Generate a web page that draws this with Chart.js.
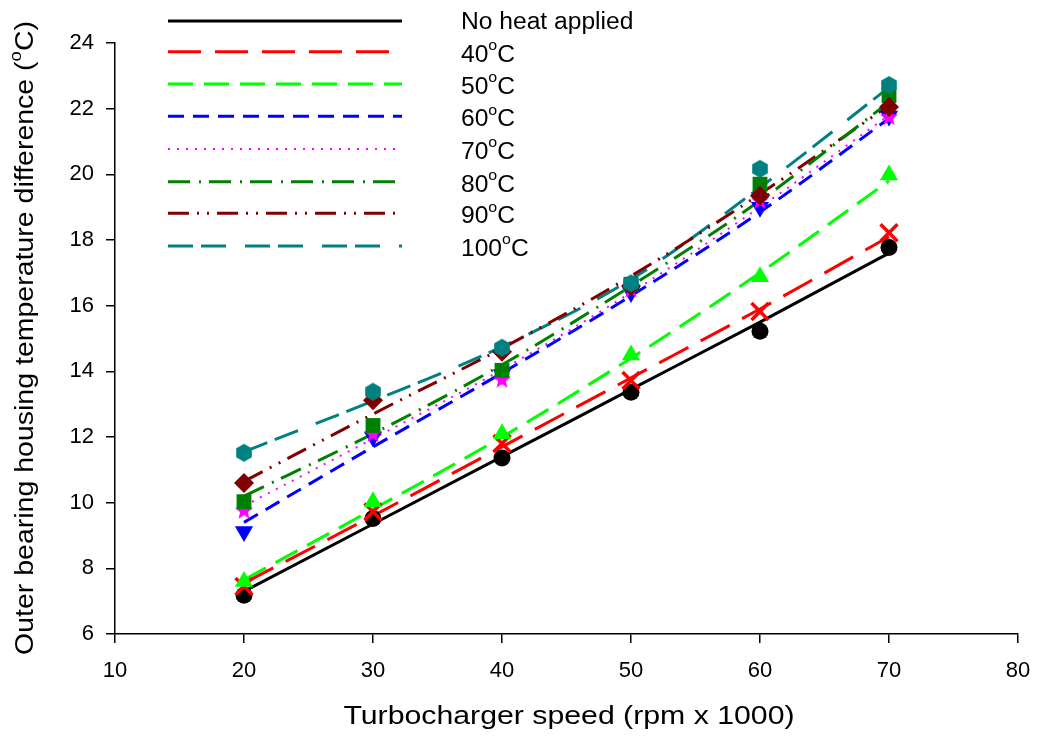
<!DOCTYPE html>
<html>
<head>
<meta charset="utf-8">
<script src="https://cdn.jsdelivr.net/npm/chart.js@4/dist/chart.umd.min.js"></script>
<style>
  html, body { margin: 0; padding: 0; background: #fff; }
  #wrap { width: 1038px; height: 736px; }
</style>
</head>
<body>
<div id="wrap"><canvas id="c" width="1038" height="736"></canvas></div>
<script>
// ---------- data ----------
const speeds = [20, 30, 40, 50, 60, 70];
const seriesLabels = ['No heat applied', '40', '50', '60', '70', '80', '90', '100'];

// measured points
const noHeat  = [7.18, 9.52, 11.36, 13.36, 15.22, 17.77];
const heat40  = [7.45, 9.72, 11.80, 13.72, 15.82, 18.22];
const heat50  = [7.60, 10.03, 12.10, 14.50, 16.88, 19.98];
const heat60  = [9.12, 12.00, 13.90, 16.40, 19.00, 21.78];
const heat70  = [9.76, 12.10, 13.75, 16.50, 19.20, 21.75];
const heat80  = [10.03, 12.35, 14.03, 16.65, 19.70, 22.40];
const heat90  = [10.60, 13.12, 14.60, 16.60, 19.35, 22.05];
const heat100 = [11.52, 13.38, 14.72, 16.68, 20.17, 22.72];

// fitted curves
const fitNoHeat = [7.30, 9.35, 11.40, 13.45, 15.50, 17.60];
const fit40     = [7.55, 9.60, 11.70, 13.80, 15.90, 18.10];
const fit50     = [7.65, 9.80, 12.00, 14.40, 17.00, 19.80];
const fit60     = [9.40, 11.70, 13.95, 16.30, 18.85, 21.70];
const fit70     = [9.90, 11.95, 14.05, 16.40, 19.00, 21.80];
const fit80     = [10.20, 12.10, 14.20, 16.60, 19.20, 22.20];
const fit90     = [10.65, 12.70, 14.70, 16.90, 19.40, 22.10];
const fit100    = [11.55, 13.10, 14.75, 16.80, 19.60, 22.65];

const xTicks = [10, 20, 30, 40, 50, 60, 70, 80];
const yTicks = [6, 8, 10, 12, 14, 16, 18, 20, 22, 24];

// ---------- styles ----------
const FONT = 'Arial, "Liberation Sans", sans-serif';
Chart.defaults.font.family = FONT;
Chart.defaults.font.size = 22;
Chart.defaults.color = '#000';

const colors = ['#000000', '#ff0000', '#00ff00', '#0000ff', '#ff00ff', '#008000', '#800000', '#008080'];
const dashes = [[], [33, 14], [25, 11], [16, 9], [2, 7], [22, 9, 2, 8], [21, 8, 2, 8, 2, 8], [25, 8, 25, 19]];
const lineWidths = [3, 3, 3, 3, 2, 3, 3, 3];

function makeShape(kind, color) {
  const c = document.createElement('canvas');
  c.width = 22; c.height = 22;
  const g = c.getContext('2d');
  g.fillStyle = color;
  g.beginPath();
  if (kind === 'hex') {
    for (let i = 0; i < 6; i++) {
      const a = -Math.PI / 2 + i * Math.PI / 3;
      const px = 11 + 9 * Math.cos(a), py = 11 + 9 * Math.sin(a);
      i ? g.lineTo(px, py) : g.moveTo(px, py);
    }
  } else {
    for (let i = 0; i < 10; i++) {
      const a = -Math.PI / 2 + i * Math.PI / 5;
      const r = i % 2 ? 4 : 9.5;
      const px = 11 + r * Math.cos(a), py = 11.5 + r * Math.sin(a);
      i ? g.lineTo(px, py) : g.moveTo(px, py);
    }
  }
  g.closePath();
  g.fill();
  return c;
}

const pointSets = [noHeat, heat40, heat50, heat60, heat70, heat80, heat90, heat100];
const fitSets = [fitNoHeat, fit40, fit50, fit60, fit70, fit80, fit90, fit100];
const pStyles = ['circle', 'crossRot', 'triangle', 'triangle', makeShape('star', '#ff00ff'), 'rect', 'rectRot', makeShape('hex', '#008080')];
const pRadius = [8.5, 12, 10.5, 10.5, 9, 10.5, 10, 9];
const pRot = [0, 0, 0, 180, 0, 0, 0, 0];

const toXY = arr => speeds.map((x, i) => ({ x: x, y: arr[i] }));

const datasets = [];
fitSets.forEach((arr, i) => {
  datasets.push({
    label: 'fit ' + seriesLabels[i],
    data: toXY(arr),
    showLine: true,
    borderColor: colors[i],
    borderWidth: lineWidths[i],
    borderDash: dashes[i],
    cubicInterpolationMode: 'monotone',
    pointRadius: 0,
    pointHoverRadius: 0,
    fill: false,
    order: 30 + i
  });
});
pointSets.forEach((arr, i) => {
  datasets.push({
    label: seriesLabels[i],
    data: toXY(arr),
    showLine: false,
    pointStyle: pStyles[i],
    pointRadius: pRadius[i],
    pointRotation: pRot[i],
    backgroundColor: colors[i],
    borderColor: colors[i],
    pointBorderWidth: i === 1 ? 3.5 : 0,
    order: 10 - i
  });
});

// ---------- rich text helper (superscript o) ----------
function drawRich(ctx, parts, size, sx, align) {
  const font = s => s + 'px ' + FONT;
  let w = 0;
  parts.forEach(p => { ctx.font = font(p.sup ? size * 0.65 : size); p.w = ctx.measureText(p.t).width; w += p.w; });
  ctx.save();
  ctx.scale(sx, 1);
  let x = align === 'center' ? -w / 2 : 0;
  ctx.textBaseline = 'alphabetic';
  ctx.textAlign = 'left';
  parts.forEach(p => {
    ctx.font = font(p.sup ? size * 0.65 : size);
    ctx.fillText(p.t, x, p.sup ? -size * 0.5 : 0);
    x += p.w;
  });
  ctx.restore();
}

const decor = {
  id: 'decor',
  afterDraw(chart) {
    const ctx = chart.ctx;
    ctx.save();
    ctx.fillStyle = '#000';
    // legend
    const ly = [21, 51.7, 84, 116.3, 149, 181.7, 213.3, 246];
    for (let i = 0; i < 8; i++) {
      ctx.save();
      ctx.strokeStyle = colors[i];
      ctx.lineWidth = lineWidths[i];
      ctx.setLineDash(dashes[i]);
      ctx.beginPath();
      ctx.moveTo(168, ly[i]);
      ctx.lineTo(402, ly[i]);
      ctx.stroke();
      ctx.restore();
      ctx.save();
      ctx.translate(461, ly[i] + (i === 0 ? 8.3 : 9.8));
      const parts = i === 0 ? [{ t: seriesLabels[0] }] : [{ t: seriesLabels[i] }, { t: 'o', sup: true }, { t: 'C' }];
      drawRich(ctx, parts, 23, 1.07, 'left');
      ctx.restore();
    }
    // x title
    ctx.save();
    ctx.translate(569, 724);
    drawRich(ctx, [{ t: 'Turbocharger speed (rpm x 1000)' }], 25, 1.21, 'center');
    ctx.restore();
    // y title
    ctx.save();
    ctx.translate(33, 338);
    ctx.rotate(-Math.PI / 2);
    drawRich(ctx, [{ t: 'Outer bearing housing temperature difference (' }, { t: 'o', sup: true }, { t: 'C)' }], 25, 1.14, 'center');
    ctx.restore();
    ctx.restore();
  }
};

new Chart(document.getElementById('c'), {
  type: 'scatter',
  data: { datasets: datasets },
  plugins: [decor],
  options: {
    responsive: false,
    animation: false,
    devicePixelRatio: 1,
    layout: { padding: { top: 43, right: 20, left: 0, bottom: 0 } },
    plugins: { legend: { display: false }, tooltip: { enabled: false }, title: { display: false } },
    scales: {
      x: {
        type: 'linear', min: 10, max: 80,
        afterBuildTicks: s => { s.ticks = xTicks.map(v => ({ value: v })); },
        afterFit: s => { s.height = 102; s.paddingRight = 0; s.paddingLeft = 0; },
        grid: { display: true, drawOnChartArea: false, drawTicks: true, tickLength: 9, color: '#000', lineWidth: 1.5 },
        border: { display: true, color: '#000', width: 1.5 },
        ticks: { color: '#000', font: { size: 22, family: FONT }, padding: 15, maxRotation: 0, autoSkip: false }
      },
      y: {
        type: 'linear', min: 6, max: 24,
        afterBuildTicks: s => { s.ticks = yTicks.map(v => ({ value: v })); },
        afterFit: s => { s.width = 115; },
        grid: { display: true, drawOnChartArea: false, drawTicks: true, tickLength: 9, color: '#000', lineWidth: 1.5 },
        border: { display: true, color: '#000', width: 1.5 },
        ticks: { color: '#000', font: { size: 22, family: FONT }, padding: 12, autoSkip: false }
      }
    }
  }
});
</script>
</body>
</html>
